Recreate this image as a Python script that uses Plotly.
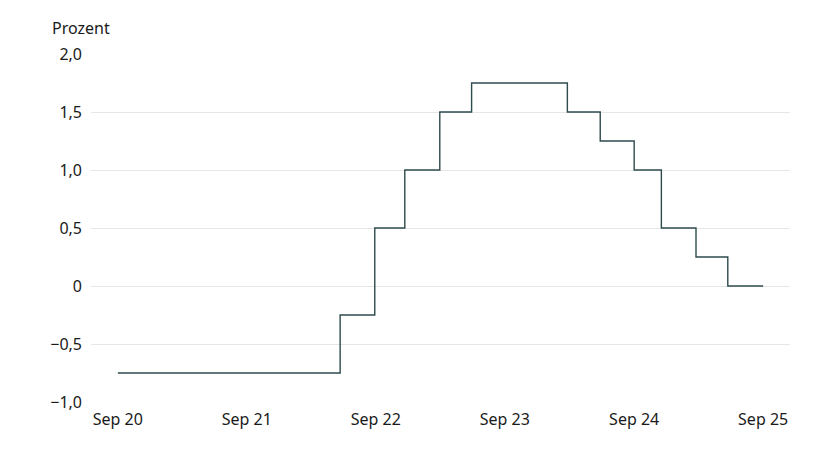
import plotly.graph_objects as go

# SNB-Leitzins, Stufenwerte (Zeitpunkte)
dates = [
    "2020-09-01", "2022-05-23", "2022-08-29", "2022-11-22", "2023-03-01",
    "2023-05-30", "2024-02-25", "2024-05-28", "2024-09-01", "2024-11-17",
    "2025-02-23", "2025-05-24", "2025-09-01",
]
rates = [-0.75, -0.25, 0.5, 1.0, 1.5, 1.75, 1.5, 1.25, 1.0, 0.5, 0.25, 0.0, 0.0]

y_ticks = [-1.0, -0.5, 0, 0.5, 1.0, 1.5, 2.0]
y_labels = ["\u22121,0", "\u22120,5", "0", "0,5", "1,0", "1,5", "2,0"]
x_ticks = ["2020-09-01", "2021-09-01", "2022-09-01", "2023-09-01", "2024-09-01", "2025-09-01"]
x_labels = ["Sep 20", "Sep 21", "Sep 22", "Sep 23", "Sep 24", "Sep 25"]

FONT = "Noto Sans, Open Sans, sans-serif"
LINE = "#2e4b4d"
GRID = "#e6e6e6"

# page body has an 8px margin, so the figure is drawn 8px smaller
fig = go.Figure()
fig.add_trace(
    go.Scatter(
        x=dates,
        y=rates,
        mode="lines",
        line=dict(color=LINE, width=1.4, shape="hv"),
        showlegend=False,
        hovertemplate="%{x|%d.%m.%Y}: %{y:.2f} %<extra></extra>",
    )
)

fig.add_annotation(
    text="Prozent",
    xref="paper", yref="paper",
    x=-41 / 699, y=1.0,
    xanchor="left", yanchor="bottom",
    yshift=13,
    showarrow=False,
    font=dict(size=16, color="#1a1a1a", family=FONT),
)

fig.update_layout(
    width=832,
    height=445,
    plot_bgcolor="white",
    paper_bgcolor="white",
    font=dict(family=FONT, size=16, color="#1a1a1a"),
    margin=dict(t=46, b=51, l=83, r=50),
)
fig.update_xaxes(
    range=["2020-06-17", "2025-11-16"],
    tickvals=x_ticks,
    ticktext=x_labels,
    showgrid=False,
    zeroline=False,
    showline=False,
    ticks="",
    ticklabelstandoff=6,
)
fig.update_yaxes(
    range=[-1.0, 2.0],
    tickvals=y_ticks,
    ticktext=y_labels,
    showgrid=True,
    gridcolor=GRID,
    gridwidth=1,
    zeroline=False,
    showline=False,
    ticks="",
    ticklabelstandoff=8,
)

fig.write_html("out.html")
